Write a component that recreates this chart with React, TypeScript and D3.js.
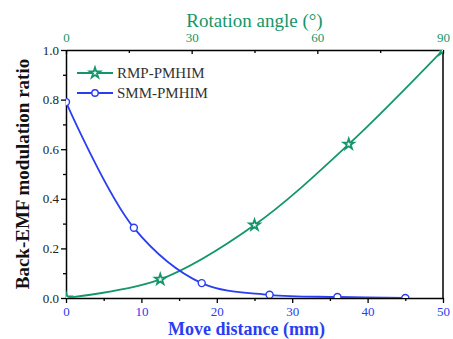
import React, { useEffect, useRef } from "react";
import * as d3 from "d3";

// move distance (mm) and back-EMF modulation ratio
const rmpDistance = [0, 12.5, 25, 37.5, 50];
const rmpRatio = [0.0, 0.075, 0.294, 0.62, 1.0];
const smmDistance = [0, 9, 18, 27, 36, 45];
const smmRatio = [0.79, 0.283, 0.06, 0.013, 0.004, 0.0];

const xTicks = [0, 10, 20, 30, 40, 50];
const angleTicks = [0, 30, 60, 90];
const yTicks = [0, 0.2, 0.4, 0.6, 0.8, 1.0];
const seriesNames = ["RMP-PMHIM", "SMM-PMHIM"];

const GREEN = "#14966a";
const BLUE = "#2a3df2";
const FONT = "Liberation Serif, DejaVu Serif, Times New Roman, serif";

export default function App() {
  const ref = useRef<SVGSVGElement>(null);

  useEffect(() => {
    const root = d3.select(ref.current);
    root.selectAll("*").remove();

    const width = 453;
    const height = 339;
    const margin = { top: 50, right: 10, bottom: 41, left: 66 };
    const w = width - margin.left - margin.right;
    const h = height - margin.top - margin.bottom;

    const svg = root.append("g").attr("transform", `translate(${margin.left},${margin.top})`);

    const x = d3.scaleLinear().domain([0, 50]).range([0, w]);
    const xAngle = d3.scaleLinear().domain([0, 90]).range([0, w]);
    const y = d3.scaleLinear().domain([0, 1]).range([h, 0]);

    svg
      .append("defs")
      .append("clipPath")
      .attr("id", "plotclip")
      .append("rect")
      .attr("width", w)
      .attr("height", h);

    // bottom axis
    const bottom = svg
      .append("g")
      .attr("transform", `translate(0,${h})`)
      .call(d3.axisBottom(x).tickValues(xTicks).tickSize(5).tickPadding(4).tickSizeOuter(0));
    bottom.attr("font-family", FONT).attr("font-size", 13);
    bottom.selectAll("text").attr("fill", BLUE);
    svg
      .append("g")
      .attr("transform", `translate(0,${h})`)
      .call(d3.axisBottom(x).tickValues([5, 15, 25, 35, 45]).tickSize(3).tickFormat(() => ""))
      .select(".domain")
      .remove();

    // top axis (rotation angle)
    const top = svg
      .append("g")
      .call(d3.axisTop(xAngle).tickValues(angleTicks).tickSize(-4).tickPadding(8).tickSizeOuter(0));
    top.attr("font-family", FONT).attr("font-size", 13);
    top.selectAll("text").attr("fill", GREEN);
    svg
      .append("g")
      .call(d3.axisTop(xAngle).tickValues([15, 45, 75]).tickSize(-3).tickFormat(() => ""))
      .select(".domain")
      .remove();

    // left axis
    const left = svg
      .append("g")
      .call(d3.axisLeft(y).tickValues(yTicks).tickSize(5).tickPadding(2).tickFormat(d3.format(".1f")).tickSizeOuter(0));
    left.attr("font-family", FONT).attr("font-size", 13);
    left.selectAll("text").attr("fill", "#222");
    svg
      .append("g")
      .call(d3.axisLeft(y).tickValues([0.1, 0.3, 0.5, 0.7, 0.9]).tickSize(3).tickFormat(() => ""))
      .select(".domain")
      .remove();

    // right border
    svg
      .append("line")
      .attr("x1", w)
      .attr("x2", w)
      .attr("y1", 0)
      .attr("y2", h)
      .attr("stroke", "black")
      .attr("stroke-width", 1.5);

    svg.selectAll(".domain").attr("stroke-width", 1.5);
    svg.selectAll(".tick line").attr("stroke-width", 1.3);

    // curves
    const plot = svg.append("g").attr("clip-path", "url(#plotclip)");
    const line = d3
      .line<[number, number]>()
      .x((d) => x(d[0]))
      .y((d) => y(d[1]))
      .curve(d3.curveCatmullRom.alpha(0.5));

    const rmp: [number, number][] = rmpDistance.map((d, i) => [d, rmpRatio[i]]);
    const smm: [number, number][] = smmDistance.map((d, i) => [d, smmRatio[i]]);

    plot.append("path").datum(rmp).attr("d", line).attr("fill", "none").attr("stroke", GREEN).attr("stroke-width", 1.8);
    plot.append("path").datum(smm).attr("d", line).attr("fill", "none").attr("stroke", BLUE).attr("stroke-width", 1.8);

    const star = d3.symbol().type(d3.symbolStar).size(34);
    plot
      .selectAll(".rmp")
      .data(rmp)
      .enter()
      .append("path")
      .attr("d", star)
      .attr("transform", (d) => `translate(${x(d[0])},${y(d[1])})`)
      .attr("fill", "white")
      .attr("stroke", GREEN)
      .attr("stroke-width", 1.8);

    plot
      .selectAll(".smm")
      .data(smm)
      .enter()
      .append("circle")
      .attr("cx", (d) => x(d[0]))
      .attr("cy", (d) => y(d[1]))
      .attr("r", 3.5)
      .attr("fill", "white")
      .attr("stroke", BLUE)
      .attr("stroke-width", 1.4);

    // legend
    const legend = svg.append("g").attr("transform", "translate(11,23)");
    [GREEN, BLUE].forEach((c, i) => {
      const g = legend.append("g").attr("transform", `translate(0,${i * 20})`);
      g.append("line").attr("x1", 0).attr("x2", 36).attr("stroke", c).attr("stroke-width", 1.8);
      if (i === 0) {
        g.append("path").attr("d", star).attr("transform", "translate(18,0)").attr("fill", "white").attr("stroke", c).attr("stroke-width", 1.8);
      } else {
        g.append("circle").attr("cx", 18).attr("r", 3.2).attr("fill", "white").attr("stroke", c).attr("stroke-width", 1.4);
      }
      g.append("text")
        .attr("x", 40)
        .attr("dy", "0.35em")
        .text(seriesNames[i])
        .attr("font-family", FONT)
        .attr("font-size", 15)
        .attr("fill", "#333");
    });

    // titles
    root
      .append("text")
      .attr("x", margin.left + w / 2)
      .attr("y", 27)
      .attr("text-anchor", "middle")
      .text("Rotation angle (°)")
      .attr("font-family", FONT)
      .attr("font-size", 19)
      .attr("fill", GREEN);

    root
      .append("text")
      .attr("x", margin.left + w / 2 - 8)
      .attr("y", 335)
      .attr("text-anchor", "middle")
      .text("Move distance (mm)")
      .attr("font-family", FONT)
      .attr("font-size", 18)
      .attr("font-weight", "bold")
      .attr("fill", BLUE);

    root
      .append("text")
      .attr("transform", `translate(29,${margin.top + h / 2}) rotate(-90)`)
      .attr("text-anchor", "middle")
      .text("Back-EMF modulation ratio")
      .attr("font-family", FONT)
      .attr("font-size", 19)
      .attr("font-weight", "bold")
      .attr("fill", "#111");
  }, []);

  return (
    <svg
      ref={ref}
      width={453}
      height={339}
      style={{ position: "absolute", left: 0, top: 0, background: "white" }}
    />
  );
}
